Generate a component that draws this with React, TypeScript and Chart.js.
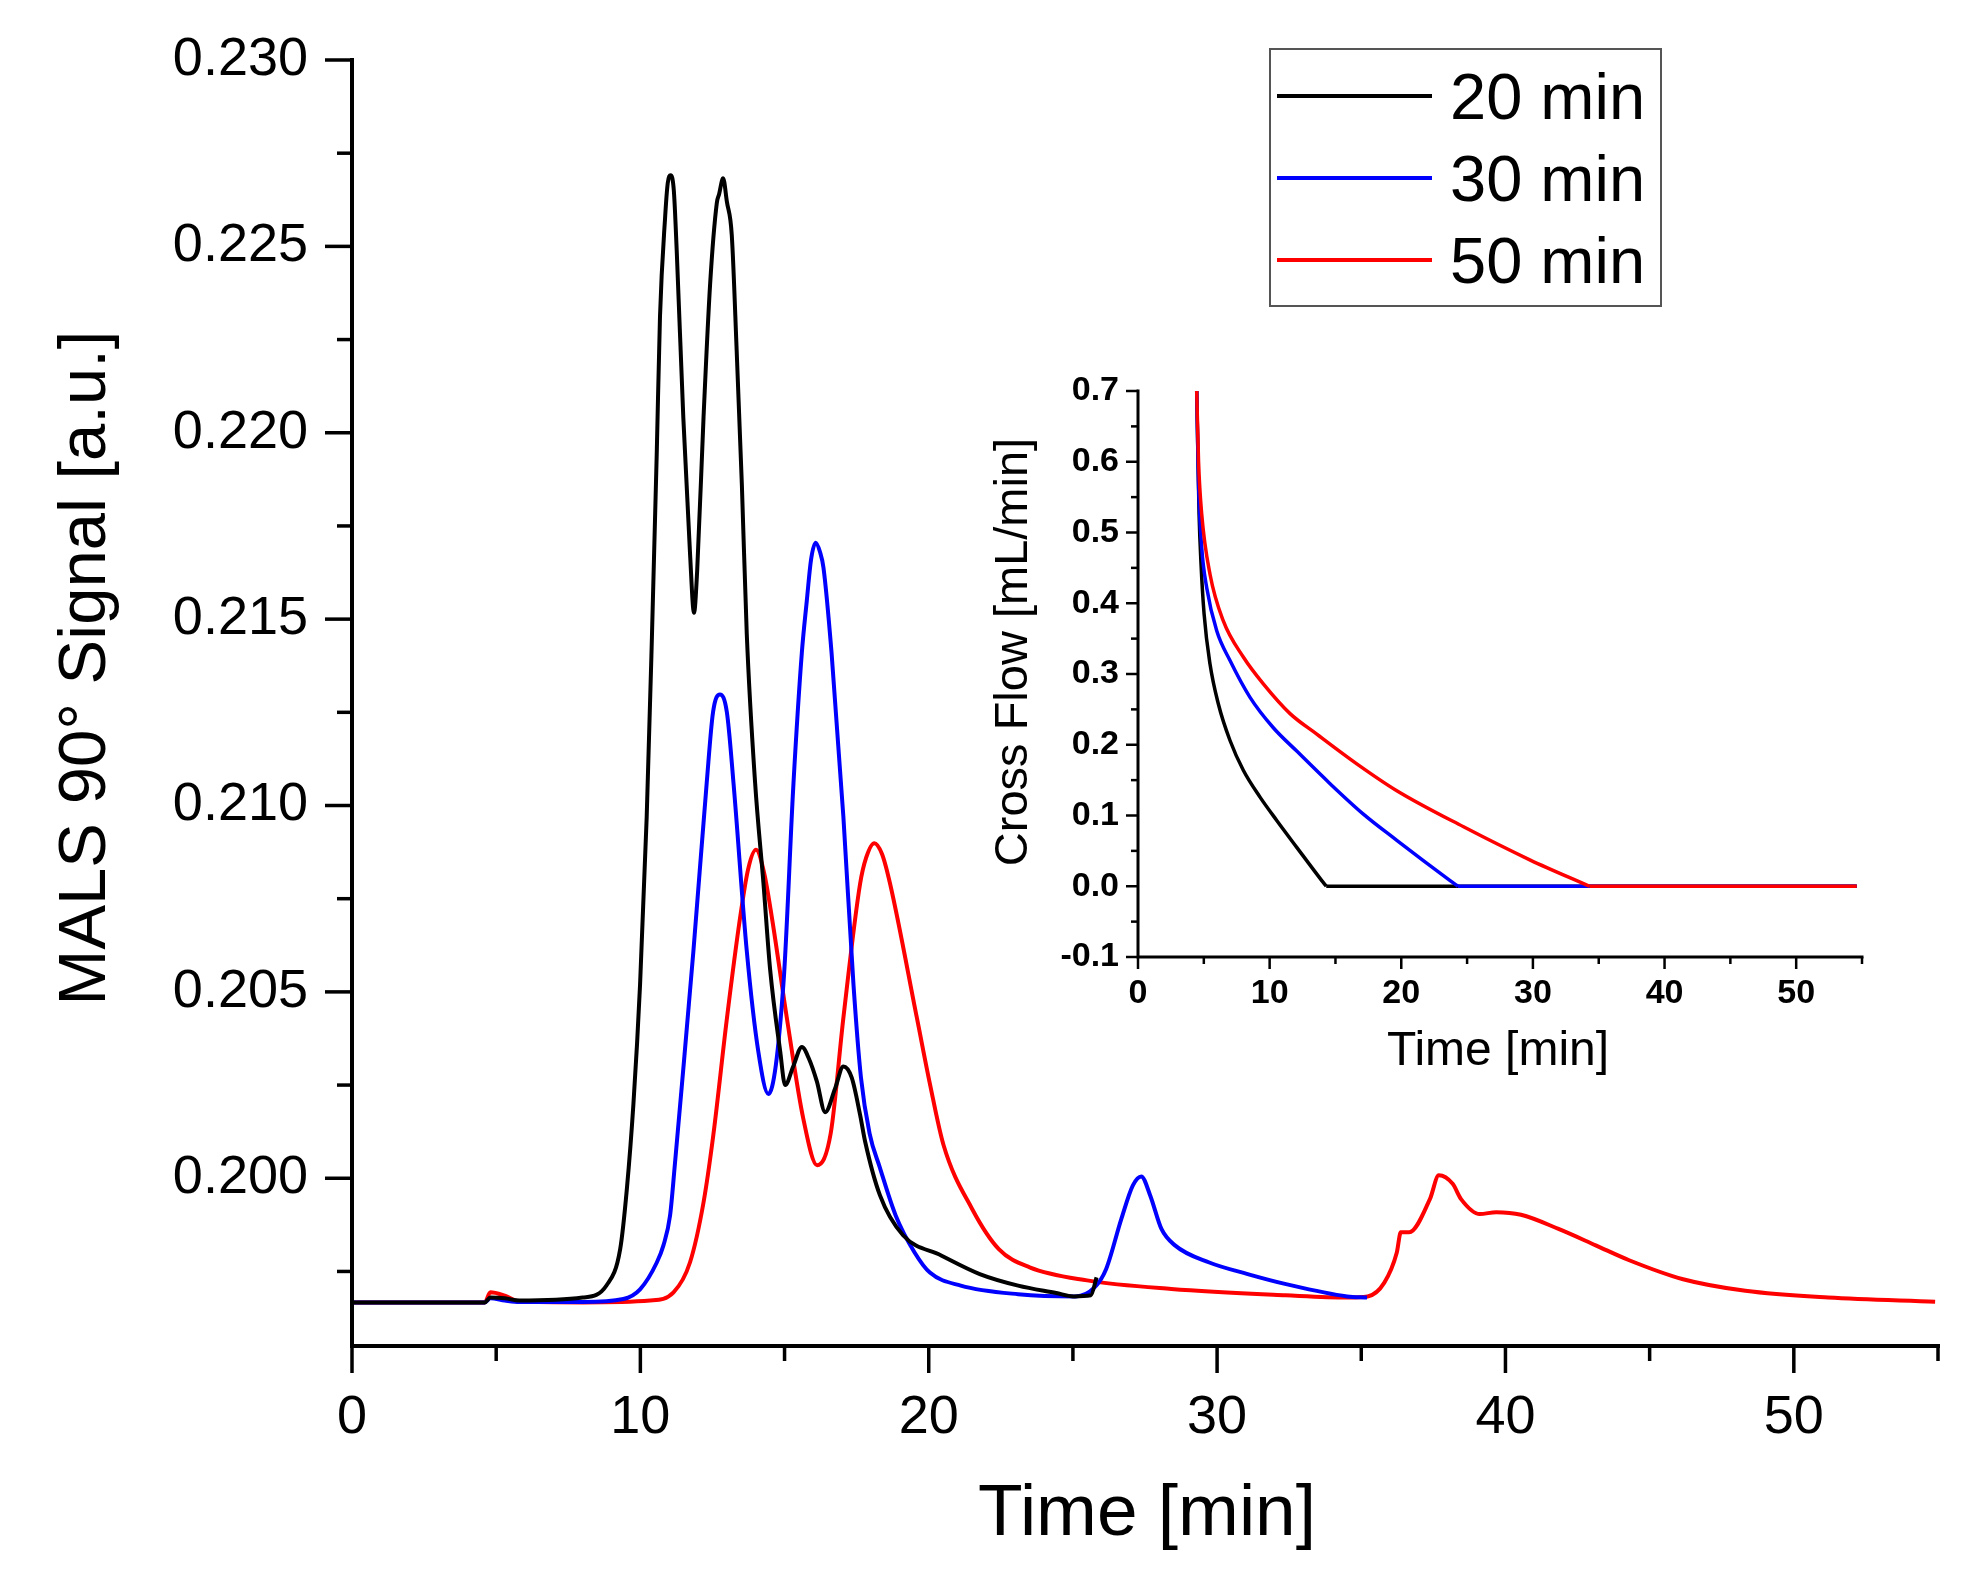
import { useEffect, useRef } from 'react';
import { Chart, registerables } from 'chart.js';

Chart.register(...registerables);

const FONT = '"Liberation Sans", Arial, Helvetica, sans-serif';

// MALS 90° signal, main panel (time in min)
const BLACK_T = [0, 4.6, 4.8, 5.3, 5.8, 8.0, 8.83, 9.3, 9.53, 9.76, 9.99, 10.22, 10.4, 10.57, 10.68, 10.86, 10.95, 11.05, 11.16, 11.26, 11.49, 11.72, 11.86, 11.97, 12.19, 12.42, 12.65, 12.73, 12.87, 13.0, 13.17, 13.34, 13.52, 13.69, 13.98, 14.27, 14.5, 14.85, 15.02, 15.3, 15.6, 15.85, 16.12, 16.41, 16.75, 17.04, 17.33, 17.62, 17.79, 18.31, 19.11, 20.43, 21.77, 23.1, 24.42, 25.02, 25.62, 25.82];
const BLACK_V = [0.19667, 0.19667, 0.1968, 0.19678, 0.19672, 0.1968, 0.19713, 0.1981, 0.1997, 0.202, 0.2052, 0.2097, 0.2145, 0.2195, 0.2231, 0.2258, 0.2267, 0.22691, 0.2265, 0.2249, 0.2204, 0.2168, 0.21517, 0.2163, 0.2204, 0.224, 0.22616, 0.2264, 0.22683, 0.2262, 0.2253, 0.2222, 0.2186, 0.2146, 0.2106, 0.2079, 0.2056, 0.2034, 0.2025, 0.203, 0.20352, 0.2032, 0.2026, 0.20177, 0.2024, 0.203, 0.2027, 0.2017, 0.201, 0.19954, 0.19847, 0.19793, 0.19743, 0.19712, 0.19692, 0.19683, 0.19686, 0.19734];

const BLUE_T = [0, 4.6, 4.8, 5.3, 5.8, 8.0, 9.41, 9.99, 10.57, 10.8, 11.03, 11.2, 11.44, 11.84, 12.3, 12.52, 12.76, 13.0, 13.23, 13.69, 14.09, 14.44, 14.96, 15.31, 15.6, 15.77, 15.92, 16.08, 16.23, 16.35, 16.63, 17.04, 17.39, 17.65, 17.95, 18.3, 18.85, 19.51, 20.04, 21.11, 23.1, 25.09, 25.75, 26.15, 26.68, 27.08, 27.37, 27.68, 28.07, 28.54, 29.73, 31.06, 32.39, 34.51, 35.2];
const BLUE_V = [0.19667, 0.19667, 0.19678, 0.19672, 0.19668, 0.19668, 0.19676, 0.19702, 0.19774, 0.1982, 0.199, 0.2004, 0.2025, 0.2061, 0.2106, 0.2125, 0.21298, 0.2125, 0.2106, 0.2061, 0.2034, 0.20226, 0.2052, 0.2106, 0.2141, 0.21548, 0.2166, 0.21705, 0.2168, 0.21638, 0.2141, 0.2097, 0.2052, 0.2027, 0.2012, 0.2003, 0.19901, 0.19801, 0.19747, 0.19712, 0.19689, 0.19683, 0.19707, 0.19756, 0.19891, 0.19981, 0.20005, 0.19954, 0.19864, 0.1982, 0.19774, 0.19743, 0.19716, 0.19683, 0.1968];

const RED_T = [0, 4.6, 4.8, 5.3, 5.8, 8.0, 10.34, 11.15, 11.72, 12.19, 12.53, 13.0, 13.46, 13.74, 14.01, 14.29, 14.56, 15.08, 15.65, 16.13, 16.6, 17.04, 17.62, 17.83, 18.11, 18.38, 18.66, 19.59, 20.05, 20.51, 21.51, 22.43, 23.5, 25.49, 28.41, 32.39, 34.51, 35.22, 35.8, 36.23, 36.37, 36.66, 37.38, 37.69, 38.17, 38.46, 39.11, 39.68, 40.54, 41.84, 43.13, 44.29, 46.16, 48.32, 51.19, 54.9];
const RED_V = [0.19667, 0.19667, 0.19694, 0.19685, 0.1967, 0.19667, 0.19672, 0.19694, 0.19774, 0.19935, 0.20116, 0.20428, 0.207, 0.2083, 0.20881, 0.2082, 0.207, 0.2043, 0.2016, 0.20035, 0.2012, 0.2043, 0.2079, 0.2086, 0.20899, 0.2087, 0.2079, 0.2043, 0.2025, 0.2009, 0.19917, 0.1981, 0.19761, 0.19726, 0.19703, 0.19686, 0.1968, 0.19683, 0.1972, 0.198, 0.19855, 0.19855, 0.19944, 0.20008, 0.19985, 0.19944, 0.19904, 0.19909, 0.19902, 0.19864, 0.1982, 0.1978, 0.19729, 0.19698, 0.1968, 0.19669];

// cross flow program, inset (mL/min); the ramp ends where the flow reaches zero
const FLOW_BLACK_T = [4.46, 4.54, 4.64, 4.79, 5.02, 5.47, 6.1, 6.99, 8.0, 9.27, 10.54, 12.06, 13.96, 14.3];
const FLOW_BLACK_V = [0.7, 0.62, 0.526, 0.455, 0.385, 0.314, 0.258, 0.206, 0.164, 0.126, 0.093, 0.055, 0.008, 0];
const FLOW_BLUE_T = [4.46, 4.59, 4.84, 5.22, 5.98, 6.99, 8.51, 10.28, 12.06, 14.59, 17.12, 19.66, 23.71, 24.3];
const FLOW_BLUE_V = [0.7, 0.573, 0.479, 0.422, 0.361, 0.319, 0.267, 0.224, 0.191, 0.145, 0.102, 0.065, 0.008, 0];
const FLOW_RED_T = [4.46, 4.6, 4.84, 5.47, 6.48, 8.0, 9.52, 11.55, 13.58, 16.62, 19.66, 24.73, 29.8, 34.3];
const FLOW_RED_V = [0.7, 0.6, 0.526, 0.441, 0.375, 0.324, 0.286, 0.244, 0.215, 0.173, 0.135, 0.084, 0.037, 0];
const FLOW_END_T = 54.6;

const SERIES = ['20 min', '30 min', '50 min'];
const COLORS = ['#000000', '#0000ff', '#ff0000'];

const MAIN_X_TICKS = [0, 10, 20, 30, 40, 50];
const MAIN_X_MINOR = [5, 15, 25, 35, 45, 55];
const MAIN_Y_TICKS = [0.2, 0.205, 0.21, 0.215, 0.22, 0.225, 0.23];
const MAIN_Y_MINOR = [0.1975, 0.2025, 0.2075, 0.2125, 0.2175, 0.2225, 0.2275];
const FLOW_X_TICKS = [0, 10, 20, 30, 40, 50];
const FLOW_X_MINOR = [5, 15, 25, 35, 45, 55];
const FLOW_Y_TICKS = [-0.1, 0, 0.1, 0.2, 0.3, 0.4, 0.5, 0.6, 0.7];
const FLOW_Y_MINOR = [-0.05, 0.05, 0.15, 0.25, 0.35, 0.45, 0.55, 0.65];

const pts = (t: number[], v: number[]) => t.map((x, i) => ({ x, y: v[i] }));

interface FrameCfg {
  axisWidth: number; tickWidth: number; major: number; minor: number;
  xMinor: number[]; yMinor: number[];
  xTitle: { text: string; x: number; y: number; size: number };
  yTitle: { text: string; x: number; y: number; size: number };
  legend?: boolean;
}

// axis lines, outward ticks, titles and the boxed legend
function makeFrame(cfg: FrameCfg) {
  return {
    id: 'frame',
    afterDraw(chart: Chart) {
      const { ctx, chartArea: a } = chart;
      const xs = chart.scales.x, ys = chart.scales.y;
      ctx.save();
      ctx.strokeStyle = '#000';
      ctx.lineWidth = cfg.axisWidth;
      ctx.lineCap = 'square';
      ctx.beginPath();
      ctx.moveTo(a.left, a.top);
      ctx.lineTo(a.left, a.bottom);
      ctx.lineTo(a.right, a.bottom);
      ctx.stroke();

      ctx.lineCap = 'butt';
      ctx.lineWidth = cfg.tickWidth;
      const seg = (x1: number, y1: number, x2: number, y2: number) => {
        ctx.beginPath(); ctx.moveTo(x1, y1); ctx.lineTo(x2, y2); ctx.stroke();
      };
      xs.ticks.forEach(t => { const p = xs.getPixelForValue(t.value); seg(p, a.bottom, p, a.bottom + cfg.major); });
      cfg.xMinor.forEach(v => { const p = xs.getPixelForValue(v); seg(p, a.bottom, p, a.bottom + cfg.minor); });
      ys.ticks.forEach(t => { const p = ys.getPixelForValue(t.value); seg(a.left, p, a.left - cfg.major, p); });
      cfg.yMinor.forEach(v => { const p = ys.getPixelForValue(v); seg(a.left, p, a.left - cfg.minor, p); });

      ctx.fillStyle = '#000';
      ctx.textAlign = 'center';
      ctx.textBaseline = 'alphabetic';
      ctx.font = `${cfg.xTitle.size}px ${FONT}`;
      ctx.fillText(cfg.xTitle.text, cfg.xTitle.x, cfg.xTitle.y);
      ctx.save();
      ctx.translate(cfg.yTitle.x, cfg.yTitle.y);
      ctx.rotate(-Math.PI / 2);
      ctx.font = `${cfg.yTitle.size}px ${FONT}`;
      ctx.fillText(cfg.yTitle.text, 0, 0);
      ctx.restore();

      if (cfg.legend) {
        ctx.strokeStyle = '#555';
        ctx.lineWidth = 2;
        ctx.strokeRect(1270, 49, 391, 257);
        ctx.font = `65px ${FONT}`;
        ctx.textAlign = 'left';
        chart.data.datasets.forEach((ds, i) => {
          const y = 96 + i * 82;
          ctx.strokeStyle = ds.borderColor as string;
          ctx.lineWidth = 4;
          seg(1277, y, 1432, y);
          ctx.fillText(ds.label as string, 1450, y + 23);
        });
      }
      ctx.restore();
    },
  };
}

const tickFont = (size: number, weight?: string) => ({ family: FONT, size, weight: weight as any });

export default function App() {
  const mainRef = useRef<HTMLCanvasElement>(null);
  const insetRef = useRef<HTMLCanvasElement>(null);

  useEffect(() => {
    document.body.style.margin = '0';
    if (!mainRef.current || !insetRef.current) return;

    const main = new Chart(mainRef.current, {
      type: 'line',
      data: {
        datasets: [
          { label: SERIES[0], data: pts(BLACK_T, BLACK_V), borderColor: COLORS[0] },
          { label: SERIES[1], data: pts(BLUE_T, BLUE_V), borderColor: COLORS[1] },
          { label: SERIES[2], data: pts(RED_T, RED_V), borderColor: COLORS[2] },
        ].map(d => ({ ...d, borderWidth: 4, pointRadius: 0, fill: false, cubicInterpolationMode: 'monotone' as const })),
      },
      options: {
        responsive: false, animation: false, events: [],
        layout: { padding: { top: 60, right: 43, left: 0, bottom: 0 } },
        plugins: { legend: { display: false }, tooltip: { enabled: false } },
        scales: {
          x: {
            type: 'linear', min: 0, max: 55,
            afterBuildTicks: s => { s.ticks = MAIN_X_TICKS.map(value => ({ value })); },
            afterFit: s => { s.height = 236; s.paddingLeft = 0; s.paddingRight = 0; },
            grid: { display: false, drawTicks: false }, border: { display: false },
            ticks: { padding: 40, color: '#000', font: tickFont(54), autoSkip: false, maxRotation: 0, callback: v => String(v) },
          },
          y: {
            type: 'linear', min: 0.1955, max: 0.23,
            afterBuildTicks: s => { s.ticks = MAIN_Y_TICKS.map(value => ({ value })); },
            afterFit: s => { s.width = 352; s.paddingTop = 0; s.paddingBottom = 0; },
            grid: { display: false, drawTicks: false }, border: { display: false },
            ticks: { padding: 44, color: '#000', font: tickFont(54), autoSkip: false, callback: v => Number(v).toFixed(3) },
          },
        },
      },
      plugins: [makeFrame({
        axisWidth: 4, tickWidth: 3.5, major: 27, minor: 15,
        xMinor: MAIN_X_MINOR, yMinor: MAIN_Y_MINOR,
        xTitle: { text: 'Time [min]', x: 1147, y: 1535, size: 73 },
        yTitle: { text: 'MALS 90° Signal [a.u.]', x: 105, y: 668, size: 67 },
        legend: true,
      })],
    });

    const ramp = (t: number[], v: number[], c: string) => [
      { data: pts(t, v), borderColor: c, cubicInterpolationMode: 'monotone' as const },
      { data: pts([t[t.length - 1], FLOW_END_T], [v[v.length - 1], v[v.length - 1]]), borderColor: c },
    ];

    const inset = new Chart(insetRef.current, {
      type: 'line',
      data: {
        datasets: [
          ...ramp(FLOW_RED_T, FLOW_RED_V, COLORS[2]),
          ...ramp(FLOW_BLUE_T, FLOW_BLUE_V, COLORS[1]),
          ...ramp(FLOW_BLACK_T, FLOW_BLACK_V, COLORS[0]),
        ].map(d => ({ ...d, borderWidth: 3.5, pointRadius: 0, fill: false })),
      },
      options: {
        responsive: false, animation: false, events: [],
        layout: { padding: { top: 31, right: 38, left: 0, bottom: 0 } },
        plugins: { legend: { display: false }, tooltip: { enabled: false } },
        scales: {
          x: {
            type: 'linear', min: 0, max: 55,
            afterBuildTicks: s => { s.ticks = FLOW_X_TICKS.map(value => ({ value })); },
            afterFit: s => { s.height = 143; s.paddingLeft = 0; s.paddingRight = 0; },
            grid: { display: false, drawTicks: false }, border: { display: false },
            ticks: { padding: 16, color: '#000', font: tickFont(34, 'bold'), autoSkip: false, maxRotation: 0, callback: v => String(v) },
          },
          y: {
            type: 'linear', min: -0.1, max: 0.7,
            afterBuildTicks: s => { s.ticks = FLOW_Y_TICKS.map(value => ({ value })); },
            afterFit: s => { s.width = 178; s.paddingTop = 0; s.paddingBottom = 0; },
            grid: { display: false, drawTicks: false }, border: { display: false },
            ticks: { padding: 19, color: '#000', font: tickFont(34, 'bold'), autoSkip: false, callback: v => Number(v).toFixed(1) },
          },
        },
      },
      plugins: [makeFrame({
        axisWidth: 3, tickWidth: 2.5, major: 12, minor: 7,
        xMinor: FLOW_X_MINOR, yMinor: FLOW_Y_MINOR,
        xTitle: { text: 'Time [min]', x: 538, y: 705, size: 48 },
        yTitle: { text: 'Cross Flow [mL/min]', x: 67, y: 292, size: 47 },
      })],
    });

    return () => { main.destroy(); inset.destroy(); };
  }, []);

  return (
    <div style={{ position: 'relative', width: 1981, height: 1582, background: '#fff' }}>
      <canvas ref={mainRef} width={1981} height={1582} style={{ position: 'absolute', left: 0, top: 0 }} />
      <canvas ref={insetRef} width={940} height={740} style={{ position: 'absolute', left: 960, top: 360 }} />
    </div>
  );
}
